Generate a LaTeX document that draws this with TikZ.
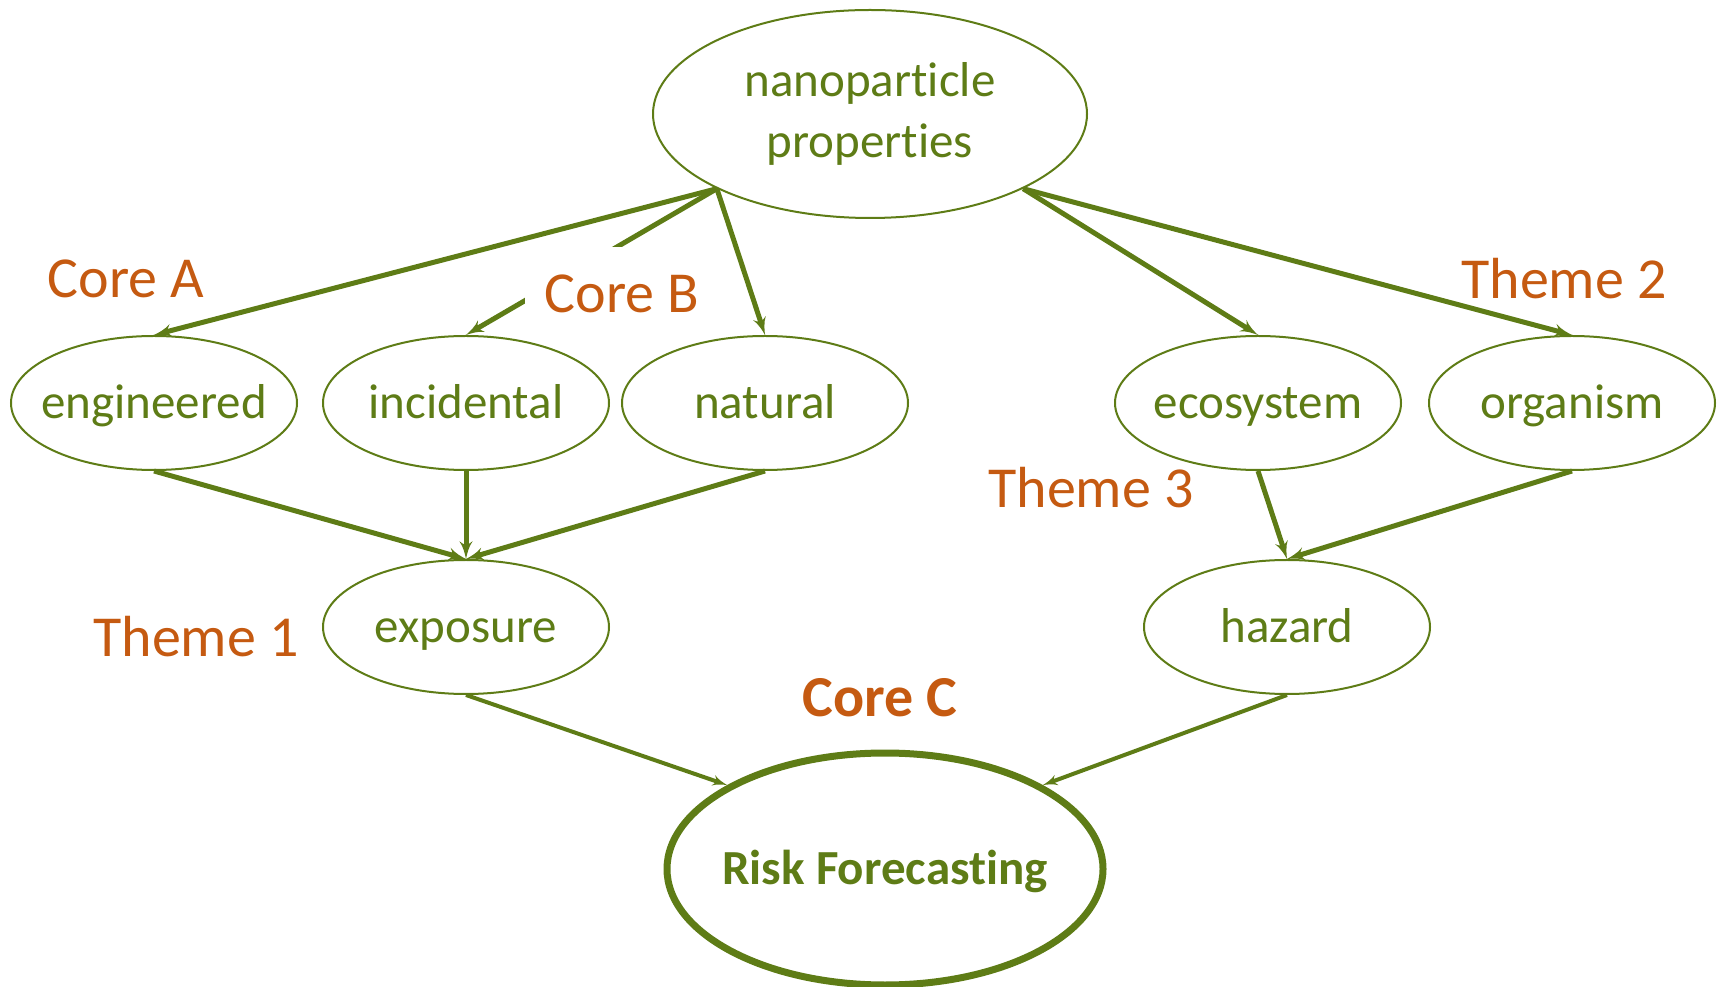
\documentclass[tikz,border=0pt]{standalone}
\usepackage{fontspec}
\setmainfont[Ligatures=NoCommon]{Carlito}
\usepackage{tikz}
\usetikzlibrary{shapes,arrows}
\definecolor{leaf}{RGB}{94,124,22}
\definecolor{rust}{RGB}{197,90,17}
\tikzstyle{line} = [draw, leaf, line width=5pt, -latex']
\tikzstyle{bubble} = [draw, leaf, ellipse, line width=2pt, inner sep=0pt, inner xsep=-40pt, text centered, font=\fontsize{49}{61}\selectfont]
\tikzstyle{leafnode} = [bubble, minimum width=286pt, minimum height=134pt, text height=31.5pt, text depth=0pt]
\tikzstyle{tag} = [text=rust, inner sep=0pt, font=\fontsize{58}{70}\selectfont]

\begin{document}
\begin{tikzpicture}[x=1pt, y=1pt, node distance=312pt]
        \useasboundingbox (0,0) rectangle (1721,986);
        \node[bubble, minimum width=434pt, minimum height=208pt, align=center] (props) at (870,872) {nanoparticle\\properties};
        \node[leafnode] (engineered) at (154,583) {engineered};
        \node[leafnode, right of=engineered] (incidental) {incidental};
        \node[leafnode, right of=incidental, node distance=299pt] (natural) {natural};
        \node[leafnode] (ecosystem) at (1258,583) {ecosystem};
        \node[leafnode, right of=ecosystem, node distance=314pt] (organism) {organism};
        \node[leafnode, below of=incidental, node distance=224pt] (exposure) {exposure};
        \node[leafnode] (hazard) at (1287,359) {hazard};
        \node[leafnode, line width=7pt, minimum width=436pt, minimum height=232pt, font=\fontsize{49}{61}\selectfont\bfseries] (risk) at (885,117) {Risk Forecasting};
        \path[line] (props.206) -- (engineered.north);
        \path[line] (props.206) -- (incidental.north);
        \path[line] (props.206) -- (natural.north);
        \path[line] (props.334) -- (ecosystem.north);
        \path[line] (props.334) -- (organism.north);
        \path[line] (engineered.south) -- (exposure.north);
        \path[line] (incidental.south) -- (exposure.north);
        \path[line] (natural.south) -- (exposure.north);
        \path[line] (ecosystem.south) -- (hazard.north);
        \path[line] (organism.south) -- (hazard.north);
        \path[line, line width=4pt] (exposure.south) -- (risk.152);
        \path[line, line width=4pt] (hazard.south) -- (risk.28);
        % group labels
        \node[tag] (coreA) at (126,707) {Core A};
        \node[tag, fill=white, minimum width=194pt, text height=66pt, text depth=10pt, anchor=base] (coreB) at (622,673) {Core B};
        \node[tag] (theme2) at (1564,707) {Theme 2};
        \node[tag] (theme3) at (1091,498) {Theme 3};
        \node[tag] (theme1) at (196,349) {Theme 1};
        \node[tag, font=\fontsize{58}{70}\selectfont\bfseries] (coreC) at (880,288) {Core C};
    \end{tikzpicture}
\end{document}
